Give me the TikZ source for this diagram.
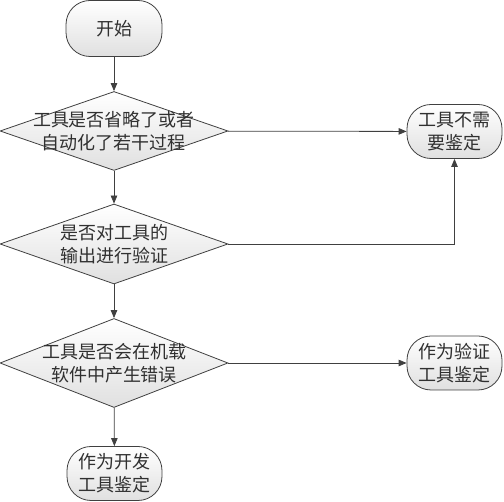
\documentclass[tikz,border=0pt]{standalone}
\usepackage{fontspec}
\setmainfont{Noto Sans CJK SC}
\usetikzlibrary{shapes.geometric,arrows.meta}
\definecolor{linec}{HTML}{404040}
\definecolor{textc}{HTML}{303030}
\definecolor{fillbot}{HTML}{E0E0E0}
\tikzset{
  term/.style={draw=linec, line width=0.8pt, rounded corners=24pt, top color=white, bottom color=fillbot,
    minimum width=95pt, minimum height=54pt, inner sep=0pt, text=textc, align=center,
    font=\fontsize{18}{23}\selectfont},
  decis/.style={draw=linec, line width=0.8pt, diamond, top color=white, bottom color=fillbot,
    minimum width=228pt, minimum height=80pt, inner sep=0pt},
  dtext/.style={text=textc, align=center, inner sep=0pt, font=\fontsize{18}{23}\selectfont},
  conn/.style={draw=linec, line width=0.8pt, -{Triangle[length=8pt,width=6.5pt]}},
}
\begin{document}
\begin{tikzpicture}[x=1pt,y=1pt]
\useasboundingbox (0,0) rectangle (504,502);
\node[term, minimum width=96pt, minimum height=56pt] (start) at (114,473.5) {开始};
\node[decis, minimum height=79pt] (d1) at (114,371) {};
\node[dtext] (d1t) at (d1) {工具是否省略了或者\\自动化了若干过程};
\node[term] (n2) at (454.5,370.5) {工具不需\\要鉴定};
\node[decis] (d2) at (114,258) {};
\node[dtext] (d2t) at (d2) {是否对工具的\\输出进行验证};
\node[decis, minimum height=89pt] (d3) at (114,139) {};
\node[dtext] (d3t) at (d3) {工具是否会在机载\\软件中产生错误};
\node[term] (n4) at (454.5,139) {作为验证\\工具鉴定};
\node[term] (n5) at (114.5,28.5) {作为开发\\工具鉴定};
\draw[conn] (start) -- (d1);
\draw[conn] (d1) -- (n2);
\draw[conn] (d1) -- (d2);
\draw[conn] (d2.east) -| (n2.south);
\draw[conn] (d2) -- (d3);
\draw[conn] (d3) -- (n4);
\draw[conn] (d3) -- (n5);
\end{tikzpicture}
\end{document}
